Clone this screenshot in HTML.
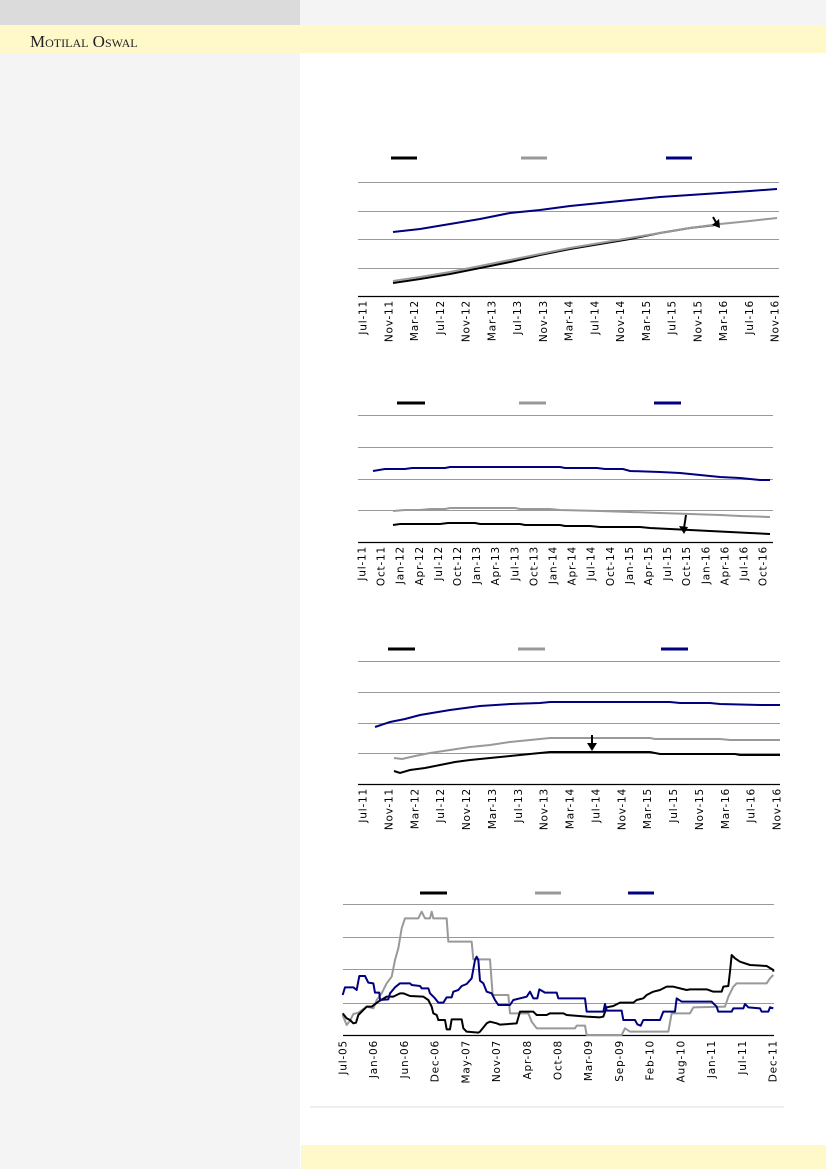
<!DOCTYPE html>
<html><head><meta charset="utf-8"><style>
html,body{margin:0;padding:0;width:826px;height:1169px;overflow:hidden;background:#fff}
svg{position:absolute;left:0;top:0}
.t{font-family:"DejaVu Sans","Liberation Sans",sans-serif;font-size:10.5px;letter-spacing:0.8px;fill:#000}
</style></head><body>
<svg width="826" height="1169" viewBox="0 0 826 1169" xmlns="http://www.w3.org/2000/svg">
<rect x="0" y="0" width="826" height="1169" fill="#fff"/>
<rect x="0" y="0" width="300" height="1169" fill="#f4f4f4"/>
<rect x="300" y="0" width="526" height="25" fill="#f4f4f4"/>
<rect x="0" y="0" width="300" height="25" fill="#dbdbdb"/>
<rect x="0" y="25" width="826" height="28" fill="#fff8c8"/>
<text x="30" y="47" font-family="Liberation Serif,serif" font-size="17" style="font-variant:small-caps" fill="#222">Motilal Oswal</text>
<rect x="301" y="1145" width="525" height="24" fill="#fff8c8"/>
<line x1="310" y1="1107" x2="784" y2="1107" stroke="#ddd" stroke-width="1"/>

<!-- Chart 1 -->
<g stroke-width="3"><line x1="391" y1="158" x2="417" y2="158" stroke="#000"/><line x1="521" y1="158" x2="547" y2="158" stroke="#999"/><line x1="666" y1="158" x2="692" y2="158" stroke="#000080"/></g>
<g stroke="#999" stroke-width="1"><line x1="358" y1="182.5" x2="779" y2="182.5"/><line x1="358" y1="211.5" x2="779" y2="211.5"/><line x1="358" y1="239.5" x2="779" y2="239.5"/><line x1="358" y1="268.5" x2="779" y2="268.5"/></g>
<line x1="358" y1="296.5" x2="779" y2="296.5" stroke="#000" stroke-width="1.2"/>
<polyline fill="none" stroke="#000080" stroke-width="2" points="393,232 420,229 450,224 480,219 510,213 540,210 570,206 600,203 630,200 660,197 690,195 720,193 750,191 777,189"/>
<polyline fill="none" stroke="#000" stroke-width="2" points="393,283 420,279 450,274 480,268 510,262 540,255 570,249 600,244 630,239 660,233 690,228 715,225"/>
<polyline fill="none" stroke="#999" stroke-width="2" points="393,281 420,277 450,272 480,266 510,260 540,254 570,248 600,243 630,238 660,233 690,228 720,224 750,221 777,218"/>
<line x1="713" y1="217" x2="717" y2="224" stroke="#000" stroke-width="2"/>
<path d="M712,225 L720,228 L719,219 Z" fill="#000"/>
<g class="t" text-anchor="end">
<text transform="translate(366.5,300) rotate(-90)">Jul-11</text>
<text transform="translate(392.3,300) rotate(-90)">Nov-11</text>
<text transform="translate(418,300) rotate(-90)">Mar-12</text>
<text transform="translate(443.8,300) rotate(-90)">Jul-12</text>
<text transform="translate(469.5,300) rotate(-90)">Nov-12</text>
<text transform="translate(495.3,300) rotate(-90)">Mar-13</text>
<text transform="translate(521,300) rotate(-90)">Jul-13</text>
<text transform="translate(546.8,300) rotate(-90)">Nov-13</text>
<text transform="translate(572.5,300) rotate(-90)">Mar-14</text>
<text transform="translate(598.3,300) rotate(-90)">Jul-14</text>
<text transform="translate(624,300) rotate(-90)">Nov-14</text>
<text transform="translate(649.8,300) rotate(-90)">Mar-15</text>
<text transform="translate(675.5,300) rotate(-90)">Jul-15</text>
<text transform="translate(701.3,300) rotate(-90)">Nov-15</text>
<text transform="translate(727,300) rotate(-90)">Mar-16</text>
<text transform="translate(752.8,300) rotate(-90)">Jul-16</text>
<text transform="translate(778.5,300) rotate(-90)">Nov-16</text>
</g>

<!-- Chart 2 -->
<g stroke-width="3"><line x1="397" y1="403" x2="425" y2="403" stroke="#000"/><line x1="519" y1="403" x2="546" y2="403" stroke="#999"/><line x1="654" y1="403" x2="681" y2="403" stroke="#000080"/></g>
<g stroke="#999" stroke-width="1"><line x1="358" y1="415.5" x2="773" y2="415.5"/><line x1="358" y1="447.5" x2="773" y2="447.5"/><line x1="358" y1="479.5" x2="773" y2="479.5"/><line x1="358" y1="510.5" x2="773" y2="510.5"/></g>
<line x1="358" y1="542.5" x2="773" y2="542.5" stroke="#000" stroke-width="1.2"/>
<polyline fill="none" stroke="#000080" stroke-width="2" points="373,471 385,469 405,469 412,468 445,468 450,467 560,467 565,468 597,468 605,469 623,469 630,471 660,472 680,473 700,475 720,477 740,478 760,480 770,480"/>
<polyline fill="none" stroke="#999" stroke-width="2" points="393,511 405,510 420,510 430,509 445,509 450,508 515,508 520,509 550,509 560,510 600,511 630,512 660,513 690,514 720,515 740,516 770,517"/>
<polyline fill="none" stroke="#000" stroke-width="2" points="393,525 400,524 440,524 448,523 475,523 480,524 520,524 525,525 560,525 565,526 590,526 600,527 640,527 650,528 670,529 690,530 710,531 730,532 750,533 770,534"/>
<line x1="686" y1="515" x2="684" y2="528" stroke="#000" stroke-width="2"/>
<path d="M679,526 L684,534 L688,527 Z" fill="#000"/>
<g class="t" text-anchor="end">
<text transform="translate(365.5,546) rotate(-90)">Jul-11</text>
<text transform="translate(384.6,546) rotate(-90)">Oct-11</text>
<text transform="translate(403.7,546) rotate(-90)">Jan-12</text>
<text transform="translate(422.8,546) rotate(-90)">Apr-12</text>
<text transform="translate(441.9,546) rotate(-90)">Jul-12</text>
<text transform="translate(461,546) rotate(-90)">Oct-12</text>
<text transform="translate(480.1,546) rotate(-90)">Jan-13</text>
<text transform="translate(499.2,546) rotate(-90)">Apr-13</text>
<text transform="translate(518.3,546) rotate(-90)">Jul-13</text>
<text transform="translate(537.4,546) rotate(-90)">Oct-13</text>
<text transform="translate(556.5,546) rotate(-90)">Jan-14</text>
<text transform="translate(575.6,546) rotate(-90)">Apr-14</text>
<text transform="translate(594.7,546) rotate(-90)">Jul-14</text>
<text transform="translate(613.8,546) rotate(-90)">Oct-14</text>
<text transform="translate(632.9,546) rotate(-90)">Jan-15</text>
<text transform="translate(652,546) rotate(-90)">Apr-15</text>
<text transform="translate(671.1,546) rotate(-90)">Jul-15</text>
<text transform="translate(690.2,546) rotate(-90)">Oct-15</text>
<text transform="translate(709.3,546) rotate(-90)">Jan-16</text>
<text transform="translate(728.4,546) rotate(-90)">Apr-16</text>
<text transform="translate(747.5,546) rotate(-90)">Jul-16</text>
<text transform="translate(766.5,546) rotate(-90)">Oct-16</text>
</g>

<!-- Chart 3 -->
<g stroke-width="3"><line x1="388" y1="649" x2="415" y2="649" stroke="#000"/><line x1="518" y1="649" x2="545" y2="649" stroke="#999"/><line x1="661" y1="649" x2="688" y2="649" stroke="#000080"/></g>
<g stroke="#999" stroke-width="1"><line x1="358" y1="661.5" x2="780" y2="661.5"/><line x1="358" y1="692.5" x2="780" y2="692.5"/><line x1="358" y1="723.5" x2="780" y2="723.5"/><line x1="358" y1="753.5" x2="780" y2="753.5"/></g>
<line x1="358" y1="784.5" x2="780" y2="784.5" stroke="#000" stroke-width="1.2"/>
<polyline fill="none" stroke="#000080" stroke-width="2" points="375,727 390,722 405,719 420,715 450,710 480,706 510,704 540,703 550,702 670,702 680,703 710,703 720,704 760,705 780,705"/>
<polyline fill="none" stroke="#999" stroke-width="2" points="394,758 402,759 415,756 430,753 450,750 470,747 490,745 510,742 530,740 550,738 650,738 655,739 720,739 730,740 780,740"/>
<polyline fill="none" stroke="#000" stroke-width="2" points="394,771 400,773 410,770 425,768 440,765 455,762 470,760 490,758 510,756 530,754 550,752 650,752 660,754 735,754 740,755 780,755"/>
<line x1="592" y1="735" x2="592" y2="745" stroke="#000" stroke-width="2"/>
<path d="M587,743 L592,751 L597,743 Z" fill="#000"/>
<g class="t" text-anchor="end">
<text transform="translate(366.5,788) rotate(-90)">Jul-11</text>
<text transform="translate(392.4,788) rotate(-90)">Nov-11</text>
<text transform="translate(418.3,788) rotate(-90)">Mar-12</text>
<text transform="translate(444.1,788) rotate(-90)">Jul-12</text>
<text transform="translate(470,788) rotate(-90)">Nov-12</text>
<text transform="translate(495.9,788) rotate(-90)">Mar-13</text>
<text transform="translate(521.8,788) rotate(-90)">Jul-13</text>
<text transform="translate(547.6,788) rotate(-90)">Nov-13</text>
<text transform="translate(573.5,788) rotate(-90)">Mar-14</text>
<text transform="translate(599.4,788) rotate(-90)">Jul-14</text>
<text transform="translate(625.3,788) rotate(-90)">Nov-14</text>
<text transform="translate(651.1,788) rotate(-90)">Mar-15</text>
<text transform="translate(677,788) rotate(-90)">Jul-15</text>
<text transform="translate(702.9,788) rotate(-90)">Nov-15</text>
<text transform="translate(728.8,788) rotate(-90)">Mar-16</text>
<text transform="translate(754.6,788) rotate(-90)">Jul-16</text>
<text transform="translate(780.5,788) rotate(-90)">Nov-16</text>
</g>

<!-- Chart 4 -->
<g stroke-width="3"><line x1="420" y1="893" x2="447" y2="893" stroke="#000"/><line x1="535" y1="893" x2="561" y2="893" stroke="#999"/><line x1="628" y1="893" x2="654" y2="893" stroke="#000080"/></g>
<g stroke="#999" stroke-width="1"><line x1="343" y1="904.5" x2="774" y2="904.5"/><line x1="343" y1="937.5" x2="774" y2="937.5"/><line x1="343" y1="969.5" x2="774" y2="969.5"/><line x1="343" y1="1003.5" x2="774" y2="1003.5"/></g>
<line x1="343" y1="1035.5" x2="774" y2="1035.5" stroke="#000" stroke-width="1.2"/>
<g transform="translate(300,860) scale(0.33333)" fill="none" stroke-width="6" stroke-linejoin="round">
<polyline stroke="#999" points="128,465 140,495 150,482 160,462 175,458 200,440 220,445 230,420 245,400 260,370 275,350 285,300 295,265 305,205 315,175 355,175 365,155 375,175 390,175 395,155 400,175 440,175 445,245 515,245 520,298 570,298 578,405 625,405 630,460 685,460 695,485 710,505 825,505 830,497 855,497 860,525 965,525 975,505 990,515 1105,515 1115,460 1170,460 1180,442 1275,440 1285,410 1300,380 1310,370 1400,370 1410,355 1420,345"/>
<polyline stroke="#000" points="128,460 140,475 150,480 160,490 168,488 175,465 190,450 200,440 215,440 235,425 260,410 280,410 300,400 310,400 330,408 370,410 385,420 395,440 400,460 410,465 415,480 435,480 440,508 450,508 455,478 485,478 490,505 500,515 535,518 540,515 560,490 570,485 590,490 600,494 650,490 660,455 700,455 710,465 740,465 750,460 790,460 800,465 860,470 900,472 910,470 920,442 940,438 960,428 1000,428 1010,420 1030,415 1040,405 1060,395 1080,390 1100,380 1120,380 1160,390 1170,388 1220,388 1240,395 1265,395 1270,380 1285,378 1290,335 1295,285 1305,295 1320,305 1350,315 1400,318 1420,330 1420,335"/>
<polyline stroke="#000080" points="128,405 135,382 160,382 170,390 178,348 195,348 205,368 220,370 225,398 238,398 240,420 265,418 270,400 285,382 300,370 330,370 335,375 360,378 365,385 385,385 390,400 405,415 415,428 430,428 440,412 455,412 460,395 475,390 485,378 500,372 515,355 525,300 530,290 535,300 540,362 550,370 560,395 575,400 585,420 595,435 630,435 640,420 680,410 690,395 700,415 712,415 718,388 735,398 770,398 775,415 855,415 860,455 910,455 915,432 920,452 965,452 970,480 1005,480 1012,493 1022,497 1030,480 1080,480 1090,455 1125,455 1130,415 1145,425 1235,425 1250,440 1255,455 1295,455 1300,445 1330,445 1335,432 1345,442 1380,445 1385,455 1405,455 1410,442 1420,445"/>
</g>
<g class="t" text-anchor="end">
<text transform="translate(346.5,1040) rotate(-90)">Jul-05</text>
<text transform="translate(377.2,1040) rotate(-90)">Jan-06</text>
<text transform="translate(407.9,1040) rotate(-90)">Jun-06</text>
<text transform="translate(438.6,1040) rotate(-90)">Dec-06</text>
<text transform="translate(469.4,1040) rotate(-90)">May-07</text>
<text transform="translate(500.1,1040) rotate(-90)">Nov-07</text>
<text transform="translate(530.8,1040) rotate(-90)">Apr-08</text>
<text transform="translate(561.5,1040) rotate(-90)">Oct-08</text>
<text transform="translate(592.2,1040) rotate(-90)">Mar-09</text>
<text transform="translate(622.9,1040) rotate(-90)">Sep-09</text>
<text transform="translate(653.6,1040) rotate(-90)">Feb-10</text>
<text transform="translate(684.4,1040) rotate(-90)">Aug-10</text>
<text transform="translate(715.1,1040) rotate(-90)">Jan-11</text>
<text transform="translate(745.8,1040) rotate(-90)">Jul-11</text>
<text transform="translate(776.5,1040) rotate(-90)">Dec-11</text>
</g>
</svg>
</body></html>
